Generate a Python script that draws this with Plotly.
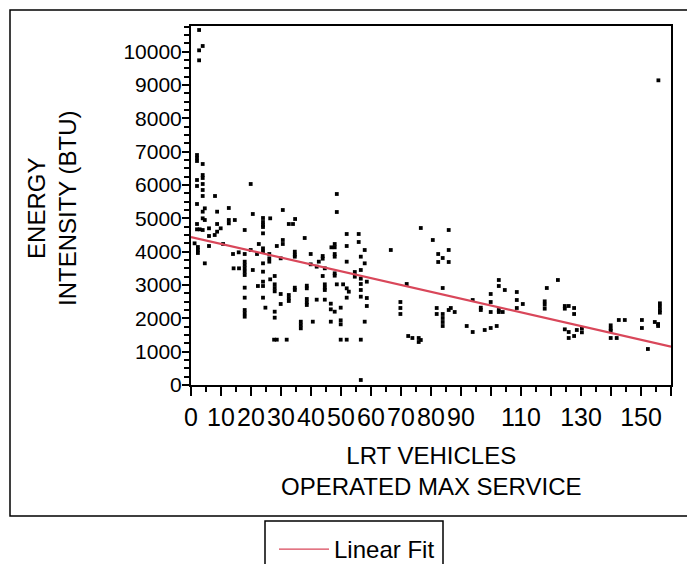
import plotly.graph_objects as go

# ---- data ----
x_vehicles = [
    2.7, 3.9, 2.7, 2.7, 2.0, 2.0, 2.0, 3.9, 3.9, 3.9, 2.0, 2.0, 3.9, 3.9, 3.9, 8.0, 19.9, 48.6, 2.0, 4.6,
    3.9, 8.7, 12.6, 20.6, 30.6, 48.6, 3.9, 4.6, 12.6, 12.6, 14.6, 24.0, 24.0, 24.0, 24.0, 26.4, 2.0, 2.0, 2.9, 6.0,
    8.7, 9.9, 8.7, 7.9, 3.9, 6.0, 17.9, 24.0, 1.2, 2.3, 2.3, 2.3, 6.0, 10.7, 22.6, 24.0, 24.0, 14.0, 15.9, 17.9,
    19.9, 26.1, 22.0, 34.7, 32.6, 34.0, 4.6, 14.2, 16.0, 17.9, 17.9, 17.9, 17.9, 17.9, 20.6, 24.0, 24.0, 26.1, 26.1, 26.4,
    17.9, 22.3, 24.0, 24.0, 17.9, 24.0, 24.8, 17.9, 17.9, 17.9, 29.9, 34.6, 34.6, 34.6, 43.9, 43.9, 42.6, 41.9, 39.9, 39.9,
    44.6, 47.9, 47.9, 46.8, 47.9, 47.9, 51.9, 56.6, 57.9, 54.6, 54.6, 56.6, 27.9, 27.9, 27.9, 27.9, 34.6, 34.6, 38.6, 38.6,
    43.9, 44.6, 44.6, 44.6, 47.9, 47.9, 48.6, 50.7, 51.9, 52.6, 51.9, 56.6, 56.6, 56.6, 56.6, 58.6, 58.6, 58.6, 29.9, 29.9,
    32.6, 32.6, 32.6, 38.6, 38.6, 38.6, 41.9, 44.6, 46.6, 46.6, 47.9, 49.9, 27.9, 27.9, 36.6, 36.6, 36.6, 40.6, 46.6, 49.9,
    49.9, 57.9, 27.7, 28.6, 31.9, 49.9, 51.9, 56.6, 56.6, 37.9, 51.9, 55.9, 55.9, 57.9, 51.9, 30.6, 30.6, 28.6, 66.6, 71.9,
    69.8, 69.8, 69.8, 72.4, 73.8, 75.9, 75.9, 76.6, 76.6, 80.6, 82.4, 82.4, 83.9, 85.9, 85.9, 85.9, 83.9, 81.9, 81.9, 83.9,
    83.9, 83.9, 83.9, 85.9, 86.6, 87.9, 91.9, 93.9, 93.9, 96.6, 96.6, 99.9, 99.9, 99.9, 97.9, 99.9, 101.9, 102.6, 102.6, 104.6,
    102.6, 102.6, 103.9, 108.6, 108.6, 108.6, 110.6, 117.9, 117.9, 117.9, 118.6, 122.3, 124.6, 124.6, 125.9, 127.7, 127.7, 124.6, 125.9, 125.9,
    127.7, 128.6, 130.3, 130.3, 139.9, 139.9, 139.9, 139.9, 141.9, 142.6, 144.6, 150.3, 150.3, 152.3, 154.6, 155.7, 155.7, 156.3, 156.3, 156.3,
    156.3, 155.8,
]
energy_btu = [
    10650, 10170, 10040, 9740, 6900, 6810, 6720, 6630, 6300, 6210, 6150, 5970, 6030, 5850, 5670, 5670, 6030, 5730, 5430, 5300,
    5200, 5200, 5310, 5130, 5250, 5190, 5000, 4950, 4950, 4850, 4950, 5010, 4890, 4800, 4740, 5000, 4830, 4670, 4670, 4700,
    4830, 4700, 4600, 4500, 4650, 4470, 4650, 4550, 4250, 4140, 4050, 3960, 4170, 4230, 4230, 4100, 4000, 3930, 3980, 3930,
    4050, 3930, 3930, 4980, 4830, 4830, 3650, 3500, 3500, 3700, 3600, 3500, 3400, 3300, 3450, 3650, 3400, 3800, 3700, 3170,
    2920, 2970, 2970, 3100, 2620, 2620, 2320, 2250, 2150, 2050, 3800, 4000, 3910, 3850, 3870, 3790, 3700, 3550, 3620, 3930,
    3500, 3930, 3850, 4130, 4130, 4230, 3700, 3850, 3650, 3390, 3250, 3450, 3270, 3020, 2910, 2810, 2920, 2850, 2980, 2900,
    3270, 3020, 2920, 2850, 3350, 3280, 3020, 3020, 2900, 2800, 2620, 3190, 3030, 2850, 2650, 3100, 2610, 2370, 2730, 2430,
    2700, 2600, 2520, 2580, 2480, 2400, 2560, 2560, 2440, 2270, 2200, 2320, 2200, 2020, 1900, 1800, 1700, 1900, 1900, 1940,
    1820, 1900, 1360, 1360, 1360, 1360, 1360, 1360, 150, 4410, 4530, 4530, 4290, 4050, 4170, 4350, 4230, 4170, 4050, 3030,
    2490, 2310, 2130, 1470, 1410, 1410, 1290, 1350, 4710, 4350, 3930, 3690, 3810, 4650, 4050, 3690, 2910, 2310, 2130, 2130,
    2010, 1890, 1770, 2250, 2310, 2190, 1770, 1590, 2550, 2320, 2250, 2730, 2490, 2190, 1650, 1710, 1770, 3150, 2970, 2850,
    2250, 2190, 2190, 2790, 2550, 2310, 2430, 2510, 2410, 2290, 2910, 3150, 2370, 2290, 2370, 2310, 2130, 1670, 1590, 1410,
    1470, 1650, 1700, 1580, 1790, 1690, 1630, 1410, 1410, 1950, 1950, 1950, 1710, 1080, 1890, 1830, 1770, 2450, 2350, 2250,
    2170, 9140,
]

# linear fit end points
fit_x = [0, 160]
fit_y = [4440, 1150]

x_tick_vals = [0, 10, 20, 30, 40, 50, 60, 70, 80, 90, 100, 110, 120, 130, 140, 150, 160]
x_tick_text = ["0", "10", "20", "30", "40", "50", "60", "70", "80", "90", "", "110", "", "130", "", "150", ""]
y_tick_vals = [0, 1000, 2000, 3000, 4000, 5000, 6000, 7000, 8000, 9000, 10000]
y_tick_text = ["0", "1000", "2000", "3000", "4000", "5000", "6000", "7000", "8000", "9000", "10000"]

FONT = "Liberation Sans, Arial, sans-serif"
RED = "#d9475a"

fig = go.Figure()
fig.add_trace(go.Scatter(
    x=x_vehicles, y=energy_btu, mode="markers",
    marker=dict(symbol="square", size=3.8, color="black", line=dict(width=0)),
    showlegend=False, cliponaxis=True,
))
fig.add_trace(go.Scatter(
    x=fit_x, y=fit_y, mode="lines", name="Linear Fit",
    line=dict(color=RED, width=2.2), showlegend=False,
))
# legend entry (thin line as in the reference)
fig.add_trace(go.Scatter(
    x=[None], y=[None], mode="lines", name="Linear Fit",
    line=dict(color=RED, width=1.3), showlegend=True,
))

# plot area in pixels: x 191..671, y 26..385
L, R, T, B = 191, 671, 26, 385
W, H = R - L, B - T
def px(xp):
    return (xp - L) / W
def py(yp):
    return (B - yp) / H

axis_common = dict(
    showline=True, linewidth=2, linecolor="black", mirror=True,
    showgrid=False, zeroline=False,
    ticks="outside", tickcolor="black", tickwidth=1.5,
)

fig.update_layout(
    width=687, height=564,
    margin=dict(l=L, r=687 - R, t=T, b=564 - B, pad=0, autoexpand=False),
    paper_bgcolor="white", plot_bgcolor="white",
    font=dict(family=FONT, size=23, color="black"),
    xaxis=dict(
        range=[0, 160], tickvals=x_tick_vals, ticktext=x_tick_text, tickangle=0, ticklen=9,
        tickfont=dict(family=FONT, size=25, color="black"),
        minor=dict(dtick=5, ticks="outside", ticklen=5, tickcolor="black", tickwidth=1.5, showgrid=False),
        **axis_common,
    ),
    yaxis=dict(
        range=[0, 10770], tickvals=y_tick_vals, ticktext=y_tick_text, ticklen=7,
        tickfont=dict(family=FONT, size=21, color="black"), ticklabelstandoff=-4,
        minor=dict(dtick=250, tick0=0, ticks="outside", ticklen=5, tickcolor="black", tickwidth=1.5, showgrid=False),
        **axis_common,
    ),
    showlegend=True,
    legend=dict(
        x=px(274), y=py(527), xanchor="left", yanchor="top",
        bgcolor="rgba(0,0,0,0)", borderwidth=0,
        font=dict(family=FONT, size=24, color="black"),
        itemwidth=50,
    ),
    shapes=[
        dict(type="rect", xref="paper", yref="paper",
             x0=px(10), x1=px(700), y0=py(516), y1=py(10),
             line=dict(color="black", width=1.5), fillcolor="rgba(0,0,0,0)", layer="below"),
        dict(type="rect", xref="paper", yref="paper",
             x0=px(265), x1=px(443), y0=py(575), y1=py(521),
             line=dict(color="black", width=1.5), fillcolor="rgba(0,0,0,0)"),
    ],
    annotations=[
        dict(text="ENERGY<br>INTENSITY (BTU)", xref="paper", yref="paper",
             x=px(52), y=py(208), xanchor="center", yanchor="middle",
             textangle=-90, showarrow=False, font=dict(family=FONT, size=24, color="black")),
        dict(text="LRT VEHICLES<br>OPERATED MAX SERVICE", xref="paper", yref="paper",
             x=px(431), y=py(471), xanchor="center", yanchor="middle",
             showarrow=False, font=dict(family=FONT, size=24, color="black")),
    ],
)

fig.write_html("out.html")
